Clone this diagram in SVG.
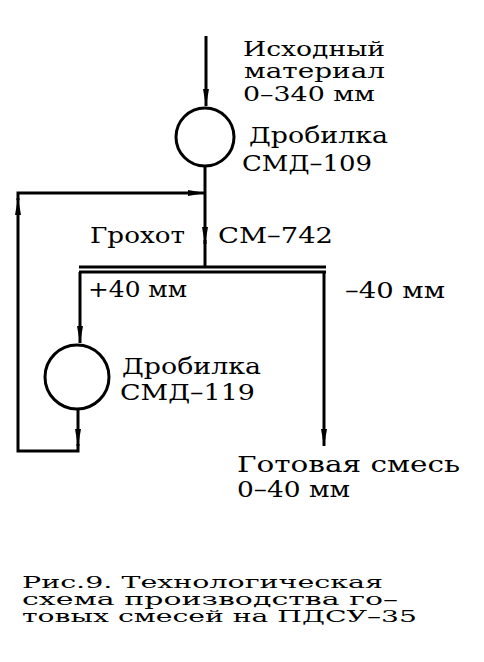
<svg xmlns="http://www.w3.org/2000/svg" width="484" height="662" viewBox="0 0 484 662">
<style>
.t{font-family:"DejaVu Serif","Liberation Serif",serif;font-size:23px;fill:#000}
.s{font-size:21px}
.c{font-family:"DejaVu Serif","Liberation Serif",serif;font-size:17px;fill:#000}
.ln{stroke:#000;stroke-width:3;fill:none}
.eq{stroke:#000;stroke-width:3;fill:#fff}
</style>
<defs>
<marker id="ah" markerUnits="userSpaceOnUse" markerWidth="18" markerHeight="8" refX="17" refY="4" orient="auto">
<path d="M0,1 L17,4 L0,7 z" fill="#000"/>
</marker>
</defs>
<rect width="484" height="662" fill="#fff"/>
<g id="connectors">
<path class="ln" d="M206,36 V106" marker-end="url(#ah)"/>
<path class="ln" d="M205,166 V244" marker-end="url(#ah)"/>
<path class="ln" d="M205,240 V267"/>
<path class="ln" d="M80,272 V343" marker-end="url(#ah)"/>
<path class="ln" d="M324,272 V446" marker-end="url(#ah)"/>
<path class="ln" d="M78,410 V446" marker-end="url(#ah)"/>
<path class="ln" d="M78,444 V451 H18 V198" marker-end="url(#ah)"/>
<path class="ln" d="M18,200 V193 H205" marker-end="url(#ah)"/>
</g>
<g id="input">
<text class="t s" x="243" y="56" textLength="142" lengthAdjust="spacingAndGlyphs">Исходный</text>
<text class="t s" x="244" y="78" textLength="141" lengthAdjust="spacingAndGlyphs">материал</text>
<text class="t s" x="243" y="101" textLength="132" lengthAdjust="spacingAndGlyphs">0–340 мм</text>
</g>
<g id="crusher1">
<circle class="eq" cx="205" cy="137" r="29"/>
<text class="t" x="249" y="143" textLength="139" lengthAdjust="spacingAndGlyphs">Дробилка</text>
<text class="t" x="242" y="171" textLength="130" lengthAdjust="spacingAndGlyphs">СМД–109</text>
</g>
<g id="screen">
<line class="ln" x1="79" y1="267" x2="326" y2="267" stroke-width="2.5"/>
<line class="ln" x1="79" y1="272" x2="326" y2="272" stroke-width="2.5"/>
<text class="t" x="90" y="243" textLength="95" lengthAdjust="spacingAndGlyphs">Грохот</text>
<text class="t" x="218" y="243" textLength="115" lengthAdjust="spacingAndGlyphs">СМ–742</text>
<text class="t" x="88" y="297" textLength="99" lengthAdjust="spacingAndGlyphs">+40 мм</text>
<text class="t" x="345" y="298" textLength="100" lengthAdjust="spacingAndGlyphs">–40 мм</text>
</g>
<g id="crusher2">
<circle class="eq" cx="77" cy="377" r="32"/>
<text class="t" x="122" y="374" textLength="139" lengthAdjust="spacingAndGlyphs">Дробилка</text>
<text class="t" x="120" y="400" textLength="135" lengthAdjust="spacingAndGlyphs">СМД–119</text>
</g>
<g id="product">
<text class="t" x="237" y="472" textLength="223" lengthAdjust="spacingAndGlyphs">Готовая смесь</text>
<text class="t" x="237" y="497" textLength="113" lengthAdjust="spacingAndGlyphs">0–40 мм</text>
</g>
<g id="caption">
<text class="c" x="22" y="588" textLength="361" lengthAdjust="spacingAndGlyphs">Рис.9. Технологическая</text>
<text class="c" x="22" y="605" textLength="376" lengthAdjust="spacingAndGlyphs">схема производства го–</text>
<text class="c" x="22" y="622" textLength="395" lengthAdjust="spacingAndGlyphs">товых смесей на ПДСУ–35</text>
</g>
</svg>
